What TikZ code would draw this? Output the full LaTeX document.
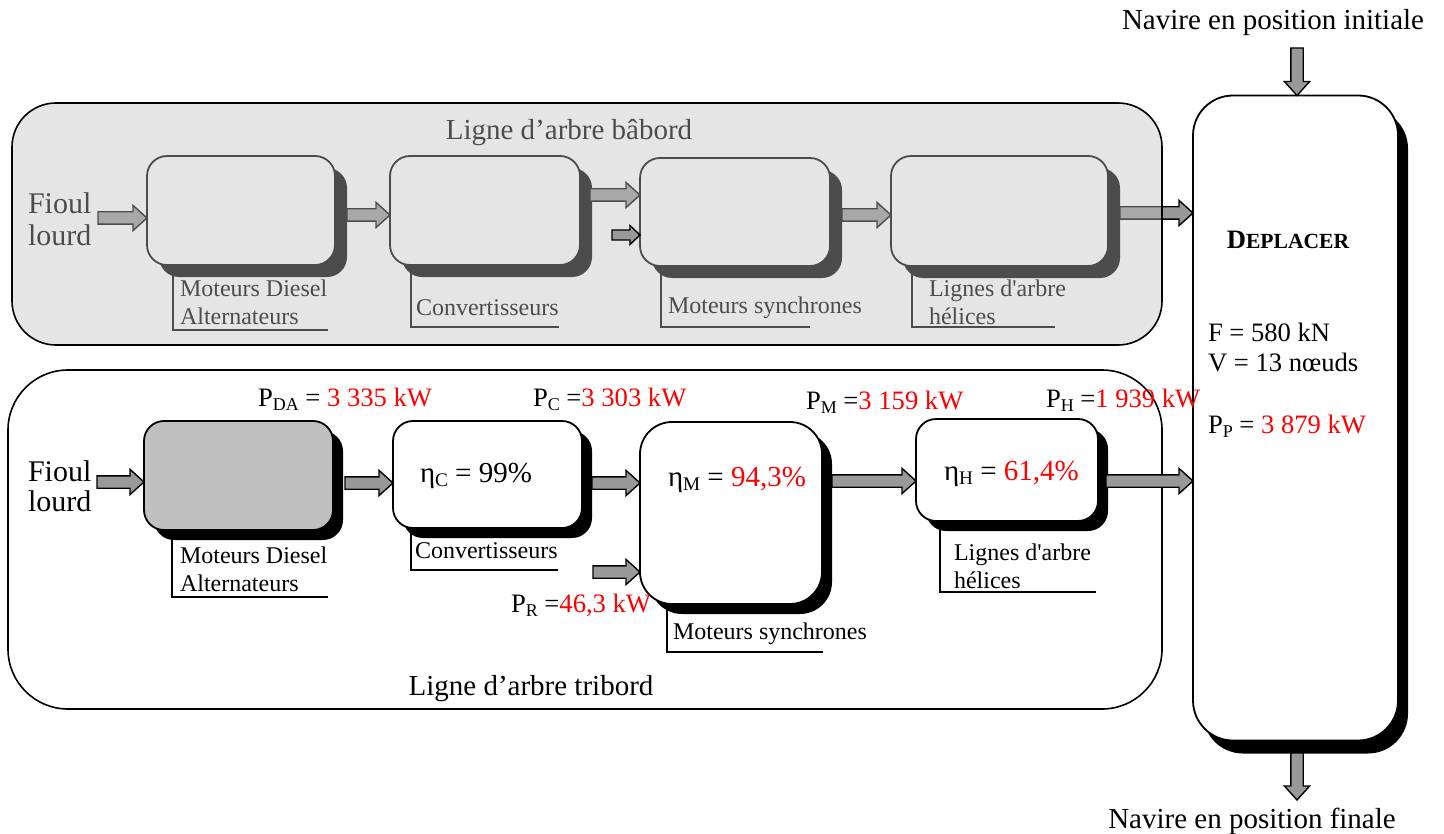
\documentclass[tikz,border=0pt]{standalone}
\usepackage{fontspec}
\setmainfont{Liberation Serif}
\usetikzlibrary{calc,shadows}
\definecolor{arrowgray}{HTML}{999999}
\definecolor{boxgray}{HTML}{C0C0C0}
\definecolor{ovl}{HTML}{C0C0C0}
\definecolor{kwred}{HTML}{FF0000}
\newcommand\blockarrow[6][]{%
  \coordinate (hbtmp) at ($(#3)!#6!(#2)$);
  \draw[barrow,#1] ($(#2)!#4!90:(#3)$) -- ($(hbtmp)!#4!90:(#3)$) -- ($(hbtmp)!#5!90:(#3)$) -- (#3) -- ($(hbtmp)!#5!-90:(#3)$) -- ($(hbtmp)!#4!-90:(#3)$) -- ($(#2)!#4!-90:(#3)$) -- cycle;}
\newcommand\mainarrow[3][]{\blockarrow[#1]{#2}{#3}{3.1pt}{6.3pt}{7pt}}
\newcommand\red[1]{\textcolor{kwred}{#1}}
\newcommand\sbs[1]{\raisebox{-2pt}{\fontsize{9}{9}\selectfont #1}}
\newcommand\sbe[1]{\raisebox{-2.2pt}{\fontsize{9.6}{10}\selectfont #1}}
\begin{document}
\begin{tikzpicture}[x=0.5pt,y=-0.5pt,
  every node/.style={inner sep=0pt, outer sep=0pt},
  big/.style={font=\fontsize{14.5}{16}\selectfont},
  fioul/.style={font=\fontsize{15}{16}\selectfont},
  fioulb/.style={font=\fontsize{15}{15}\selectfont},
  mid/.style={font=\fontsize{13.3}{15}\selectfont},
  small/.style={font=\fontsize{12}{14}\selectfont},
  barrow/.style={draw=black, fill=arrowgray, line width=0.7pt},
  blockbox/.style={draw=black, fill=white, line width=0.9pt, rounded corners=10pt},
  topshadow/.style={drop shadow={shadow xshift=6pt, shadow yshift=-6pt, fill=black, opacity=1}},
  botshadow/.style={drop shadow={shadow xshift=5pt, shadow yshift=-5pt, fill=black, opacity=1}},
  bigshadow/.style={drop shadow={shadow xshift=5pt, shadow yshift=-6.5pt, fill=black, opacity=1}},
  bracket/.style={line width=1.4pt},
  panel/.style={line width=0.8pt}]
\useasboundingbox (0,0) rectangle (1444,834);
\fill[white] (0,0) rectangle (1444,834);

% DEPLACER block
\node[blockbox, bigshadow, rounded corners=20pt, minimum width=102.5pt, minimum height=322.5pt] (P) at (1295.5,418) {};
\node[mid, anchor=base] (pt) at (1288,249) {\bfseries D{\fontsize{10.8}{13}\selectfont EPLACER}};
\node[mid, anchor=base west] (pf) at (1208,341) {F = 580 kN};
\node[mid, anchor=base west] (pv) at (1208,371) {V = 13 nœuds};
\node[mid, anchor=base west] (pp) at (1208,433) {P\sbs{P} = \red{3 879 kW}};

% ---------- top panel (babord) ----------
\node[blockbox, topshadow, minimum width=94pt, minimum height=54.5pt] (b1) at (241,210.5) {};
\node[blockbox, topshadow, minimum width=95pt, minimum height=54.5pt] (b2) at (485,210.5) {};
\node[blockbox, topshadow, minimum width=95pt, minimum height=54pt] (b3) at (735,212) {};
\node[blockbox, topshadow, minimum width=108.5pt, minimum height=55pt] (b4) at (999.5,211) {};
\draw[bracket] (173,265) |- (328,330);
\draw[bracket] (411,265) |- (559,327);
\draw[bracket] (661,266) |- (810,327);
\draw[bracket] (912,266) |- (1055,327);
\node[small, anchor=west, align=left] (l1) at (180,302) {Moteurs Diesel\\Alternateurs};
\node[small, anchor=base west] (l2) at (416,315) {Convertisseurs};
\node[small, anchor=base west] (l3) at (668,313) {Moteurs synchrones};
\node[small, anchor=west, align=left] (l4) at (929,302) {Lignes d\textquotesingle arbre\\hélices};
\node[fioul, anchor=west, align=left] (ft) at (28,219) {Fioul\\lourd};
\node[big, anchor=base] (tt) at (569,140) {Ligne d’arbre bâbord};
\coordinate (tf) at (98,218);   \coordinate (tfe) at (tf -| b1.west);
\coordinate (t12) at (347,215); \coordinate (t12e) at (t12 -| b2.west);
\coordinate (t23) at (590,195); \coordinate (t23e) at (t23 -| b3.west);
\coordinate (t34) at (842,215); \coordinate (t34e) at (t34 -| b4.west);
\coordinate (t4p) at (1120,213); \coordinate (t4pe) at (t4p -| P.west);
\mainarrow{tf}{tfe}
\mainarrow{t12}{t12e}
\mainarrow{t23}{t23e}
\mainarrow{t34}{t34e}
\mainarrow{t4p}{t4pe}
% faded overlay and border
\fill[ovl, fill opacity=0.4, rounded corners=22pt] (12,103) rectangle (1162,345);
\draw[panel, rounded corners=22pt] (12,103) rectangle (1162,345);
\coordinate (t23s) at (612,235); \coordinate (t23se) at (t23s -| b3.west);
\blockarrow{t23s}{t23se}{2.5pt}{4.7pt}{5pt}

% ---------- bottom panel (tribord) ----------
\draw[panel, fill=white, rounded corners=30pt] (8,370) rectangle (1162,709);
\node[blockbox, botshadow, fill=boxgray, minimum width=94.5pt, minimum height=54.5pt] (A) at (238.5,475.5) {};
\node[blockbox, botshadow, minimum width=94.5pt, minimum height=53.5pt] (B) at (487.5,474.5) {};
\node[blockbox, botshadow, rounded corners=16pt, minimum width=91pt, minimum height=91pt] (C) at (731,513) {};
\node[blockbox, botshadow, minimum width=91pt, minimum height=51pt] (D) at (1007,470) {};
\draw[bracket] (172,530) |- (328,597);
\draw[bracket] (411,528) |- (558,570);
\draw[bracket] (667,604) |- (823,652);
\draw[bracket] (940,521) |- (1096,592);
\node[small, anchor=west, align=left] (la) at (180,569) {Moteurs Diesel\\Alternateurs};
\node[small, anchor=base west] (lb) at (415,558) {Convertisseurs};
\node[small, anchor=base west] (lc) at (673,639) {Moteurs synchrones};
\node[small, anchor=west, align=left] (ld) at (954,566) {Lignes d\textquotesingle arbre\\hélices};
\node[fioulb, anchor=west, align=left] (fb) at (28,486) {Fioul\\lourd};
\node[big, anchor=base] (tb) at (531,695) {Ligne d’arbre tribord};
\node[mid, anchor=base west] (pda) at (258,406) {P\sbs{DA} = \red{3 335 kW}};
\node[mid, anchor=base west] (pc) at (533,406) {P\sbs{C} =\red{3 303 kW}};
\node[mid, anchor=base west] (pm) at (806,409) {P\sbs{M} =\red{3 159 kW}};
\node[mid, anchor=base west] (ph) at (1046,407) {P\sbs{H} =\red{1 939 kW}};
\node[mid, anchor=base west] (pr) at (511,612) {P\sbs{R} =\red{46,3 kW}};
\node[big, anchor=base west] (ec) at (420,482) {η\sbe{C} = 99\%};
\node[big, anchor=base west] (em) at (668,486) {η\sbe{M} = \red{94,3\%}};
\node[big, anchor=base west] (eh) at (944,480) {η\sbe{H} = \red{61,4\%}};
\coordinate (bf) at (97,482);   \coordinate (bfe) at (bf -| A.west);
\coordinate (bab) at (345,483); \coordinate (babe) at (bab -| B.west);
\coordinate (bbc) at (592,483); \coordinate (bbce) at (bbc -| C.west);
\coordinate (br) at (593,572);  \coordinate (bre) at (br -| C.west);
\coordinate (bcd) at (832,481); \coordinate (bcde) at (bcd -| D.west);
\coordinate (bdp) at (1106,481); \coordinate (bdpe) at (bdp -| P.west);
\mainarrow{bf}{bfe}
\mainarrow{bab}{babe}
\mainarrow{bbc}{bbce}
\mainarrow{br}{bre}
\mainarrow{bcd}{bcde}
\mainarrow{bdp}{bdpe}

% ---------- vertical flow ----------
\node[big, anchor=base] (ni) at (1273,30) {Navire en position initiale};
\node[big, anchor=base] (nf) at (1252,828) {Navire en position finale};
\coordinate (nis) at (1297,48); \coordinate (nie) at (nis |- P.north);
\coordinate (nfs) at (1297,753); \coordinate (nfe) at (1297,800);
\mainarrow{nis}{nie}
\mainarrow{nfs}{nfe}
\end{tikzpicture}
\end{document}
